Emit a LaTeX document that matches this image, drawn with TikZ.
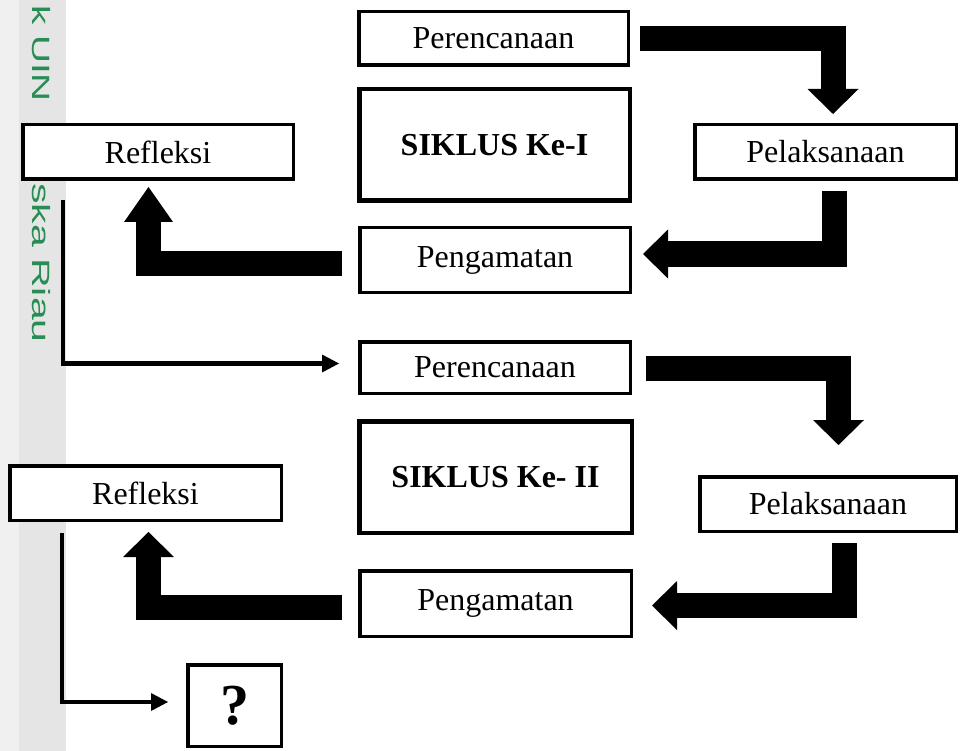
\documentclass[tikz,border=0pt]{standalone}
\usepackage{fontspec}
\setmainfont{Liberation Serif}
\newfontfamily\wmfont{Liberation Sans}
\usetikzlibrary{arrows.meta}
\definecolor{wmgreen}{RGB}{40,140,85}
\definecolor{bandA}{RGB}{240,240,240}
\definecolor{bandB}{RGB}{228,229,228}
\begin{document}
\begin{tikzpicture}[x=1pt,y=-1pt,
  box/.style={draw, line width=3.5pt, fill=white, inner sep=0pt, font=\fontsize{32}{38}\selectfont},
  bigbox/.style={box, line width=4.5pt, font=\fontsize{32}{38}\selectfont\bfseries},
  blockarrow/.style={line width=25pt, line cap=butt, line join=miter},
  thinarrow/.style={line width=4.5pt, line join=miter, -{Triangle[length=17pt,width=18pt,line width=0pt]}},
  wm/.style={rotate=-90, text=wmgreen, inner sep=0pt, font=\wmfont\fontsize{25}{25}\selectfont}
]
\useasboundingbox (0,0) rectangle (960,751);
\fill[white] (0,0) rectangle (960,751);
\fill[bandA] (0,0) rectangle (19,751);
\fill[bandB] (19,0) rectangle (66,751);
\node[wm] (wm1) at (41,53.5) {\scalebox{1.55}[1]{k UIN}};
\node[wm] (wm2) at (41,263) {\scalebox{1.64}[1]{ska Riau}};

% boxes
\node[box, minimum width=269.5pt, minimum height=53.5pt] (per1) at (493.5,38.5) {Perencanaan};
\node[bigbox, minimum width=270.5pt, minimum height=111.5pt] (sik1) at (494.5,145) {SIKLUS Ke-I};
\node[box, minimum width=270.5pt, minimum height=54.5pt] (ref1) at (158,152) {Refleksi};
\node[box, minimum width=261.5pt, minimum height=54.5pt] (pel1) at (825.5,152) {Pelaksanaan};
\node[box, minimum width=270.5pt, minimum height=64.5pt] (pen1) at (495,260) {Pengamatan};
\node[box, minimum width=270.5pt, minimum height=51.5pt] (per2) at (495,367.5) {Perencanaan};
\node[bigbox, minimum width=272.5pt, minimum height=111.5pt] (sik2) at (495.5,477) {SIKLUS Ke- II};
\node[box, minimum width=271.5pt, minimum height=54.5pt] (ref2) at (145.5,493) {Refleksi};
\node[box, minimum width=256.5pt, minimum height=54.5pt] (pel2) at (828,504) {Pelaksanaan};
\node[box, minimum width=271.5pt, minimum height=65.5pt] (pen2) at (495.5,603.5) {Pengamatan};
\node[box, minimum width=93.5pt, minimum height=81.5pt, font=\fontsize{58}{60}\selectfont\bfseries] (q) at (234.5,705.5) {?};

% connector end points
\coordinate (a1s) at (640,38.5);   \coordinate (a1t) at (833,114);
\coordinate (a2s) at (834,191);    \coordinate (a2t) at (643,254);
\coordinate (a3s) at (342,263.5);  \coordinate (a3t) at (148.5,187);
\coordinate (t1s) at (63,200);     \coordinate (t1t) at (339,363.5);
\coordinate (a4s) at (646,368);    \coordinate (a4t) at (838.5,445);
\coordinate (a5s) at (844,543);    \coordinate (a5t) at (652,605.5);
\coordinate (a6s) at (342,607);    \coordinate (a6t) at (148.5,532);
\coordinate (t2s) at (62,533);     \coordinate (t2t) at (168,702);

% block arrows
\draw[blockarrow, -{Triangle[length=25pt,width=51pt,line width=0pt]}] (a1s) -| (a1t);
\draw[blockarrow, -{Triangle[length=25pt,width=49pt,line width=0pt]}] (a2s) |- (a2t);
\draw[blockarrow, -{Triangle[length=35pt,width=49pt,line width=0pt]}] (a3s) -| (a3t);
\draw[blockarrow, -{Triangle[length=25pt,width=51pt,line width=0pt]}] (a4s) -| (a4t);
\draw[blockarrow, -{Triangle[length=25pt,width=49pt,line width=0pt]}] (a5s) |- (a5t);
\draw[blockarrow, -{Triangle[length=25pt,width=51pt,line width=0pt]}] (a6s) -| (a6t);

% thin arrows
\draw[thinarrow] (t1s) |- (t1t);
\draw[thinarrow] (t2s) |- (t2t);
\end{tikzpicture}
\end{document}
